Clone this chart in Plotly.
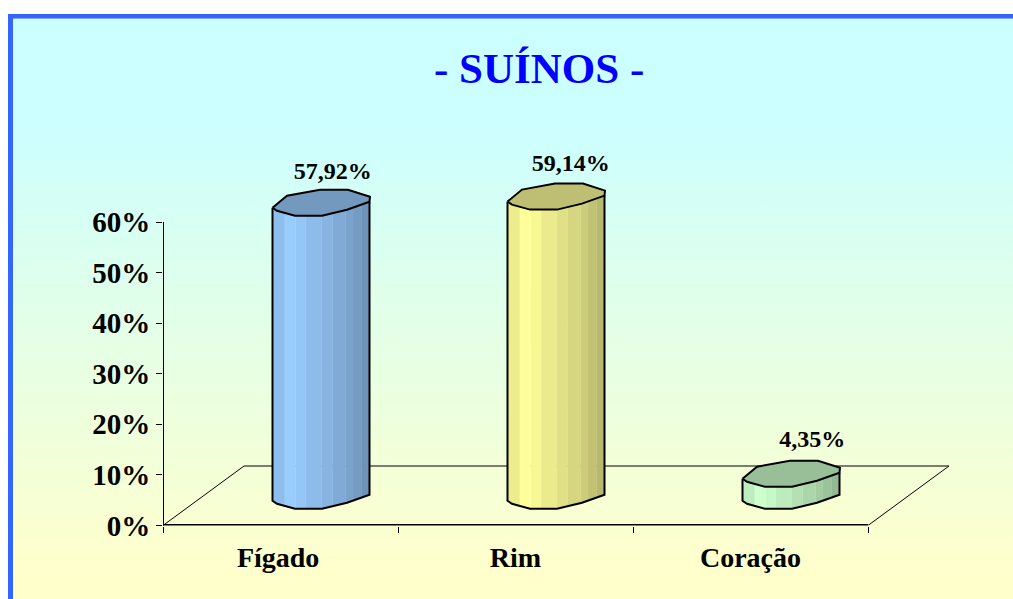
import numpy as np
import plotly.graph_objects as go

# ---- data ----
categories = ["Fígado", "Rim", "Coração"]
values = [57.92, 59.14, 4.35]
value_labels = ["57,92%", "59,14%", "4,35%"]
y_ticks = [0, 10, 20, 30, 40, 50, 60]
y_tick_labels = ["0%", "10%", "20%", "30%", "40%", "50%", "60%"]
bar_colors = [(153, 204, 255), (255, 255, 153), (204, 255, 204)]
label_shift_x = [0.05, 0.063, 0.09]
label_rise = [5.9, 6.3, 6.5]
title_text = "- SUÍNOS -"

# ---- geometry of the oblique projection, in axis units ----
W, H = 1013, 599
ORIGIN_X, ORIGIN_Y = 163, 525.5
PX_X = (868 - 163) / 3
PX_Y = (525.5 - 222) / 60
PLOT_R, PLOT_T = 980, 140
X_MAX = (PLOT_R - ORIGIN_X) / PX_X
Y_MAX = (ORIGIN_Y - PLOT_T) / PX_Y
FLOOR_DX, FLOOR_DY = 81 / PX_X, 59.5 / PX_Y
DX, DY = FLOOR_DX / 2, FLOOR_DY / 2

front_x = np.array([-48.5, -44, -26, 1, 26, 48.5])
front_y = np.array([5, 8, 13, 13, 7, -1])
back_x = np.array([49, 27, -1, -34])
back_y = np.array([-6, -13, -13, -7])
strip_edges = np.array([-48.5, -36, -25.3, -15, 0.7, 11.7, 24.7, 32, 40.7, 48.5])
strip_shade = [0.93, 1.0, 0.97, 0.92, 0.88, 0.84, 0.80, 0.76, 0.72]
TOP_SHADE = 0.75
FONT = "Liberation Serif"


def shade(rgb, f):
    return "rgb(%d,%d,%d)" % tuple(min(255, round(c * f)) for c in rgb)


fig = go.Figure()

# background gradient, on its own full-page axes
fig.add_trace(go.Scatter(
    x=[0, 1, 1, 0, 0], y=[0, 0, 1, 1, 0], mode="none", fill="toself",
    fillgradient=dict(type="vertical", start=0, stop=1,
                      colorscale=[[0, "#FFFFCC"], [0.05, "#FFFFCC"], [0.82, "#CCFFFF"], [1, "#CCFFFF"]]),
    hoverinfo="skip", showlegend=False, xaxis="x", yaxis="y"))


def main(**kw):
    fig.add_trace(go.Scatter(xaxis="x2", yaxis="y2", cliponaxis=False,
                             showlegend=False, hoverinfo="skip", **kw))


# floor
main(x=[0, FLOOR_DX, 3 + FLOOR_DX, 3], y=[0, FLOOR_DY, FLOOR_DY, 0],
     mode="lines", line=dict(color="black", width=1))
# axis lines (clipped by half at the plot edge, so drawn doubled)
main(x=[0, 0], y=[0, 60], mode="lines", line=dict(color="black", width=2))
main(x=[0, 3], y=[0, 0], mode="lines", line=dict(color="black", width=3))

# cylinders
for i, (val, rgb) in enumerate(zip(values, bar_colors)):
    cx = i + 0.5 + DX
    # side strips
    for k, f in enumerate(strip_shade):
        a, b = strip_edges[k], strip_edges[k + 1]
        xs = np.unique(np.concatenate([[a, b], front_x[(front_x > a) & (front_x < b)]]))
        ys = np.interp(xs, front_x, front_y)
        px = np.concatenate([xs, xs[::-1], xs[:1]])
        py = np.concatenate([DY + val - ys / PX_Y, (DY - ys / PX_Y)[::-1], [DY + val - ys[0] / PX_Y]])
        main(x=cx + px / PX_X, y=py, mode="lines", fill="toself",
             fillcolor=shade(rgb, f), line=dict(color=shade(rgb, f * 1.05), width=0.5))
    # side outline
    ox = np.concatenate([[front_x[0]], front_x, [front_x[-1]]])
    oy = np.concatenate([[DY + val - front_y[0] / PX_Y], DY - front_y / PX_Y, [DY + val - front_y[-1] / PX_Y]])
    main(x=cx + ox / PX_X, y=oy, mode="lines", line=dict(color="black", width=2))
    # top
    tx = np.concatenate([front_x, back_x, front_x[:1]])
    ty = np.concatenate([front_y, back_y, front_y[:1]])
    main(x=cx + tx / PX_X, y=DY + val - ty / PX_Y, mode="lines", fill="toself",
         fillcolor=shade(rgb, TOP_SHADE), line=dict(color="black", width=2))

# value labels
main(x=[i + 0.5 + DX + label_shift_x[i] for i in range(3)],
     y=[v + DY + r for v, r in zip(values, label_rise)], mode="text", text=value_labels,
     textposition="middle center",
     textfont=dict(family=FONT, size=24, color="black", weight=700))

hidden = dict(visible=False, range=[0, 1], fixedrange=True, automargin=False)
fig.update_layout(
    template="none",
    width=W, height=H, margin=dict(l=0, r=0, t=0, b=0, pad=0, autoexpand=False),
    paper_bgcolor="white", plot_bgcolor="rgba(0,0,0,0)", showlegend=False,
    xaxis=dict(domain=[13 / W, 1], **hidden),
    yaxis=dict(domain=[0, 1 - 18 / H], **hidden),
    xaxis2=dict(domain=[ORIGIN_X / W, PLOT_R / W], range=[0, X_MAX], anchor="y2", automargin=False,
                tickmode="array", tickvals=[0.49, 1.5, 2.5], ticktext=categories,
                ticks="", ticklabelstandoff=12, showgrid=False, zeroline=False, showline=False,
                tickfont=dict(family=FONT, size=28, color="black", weight=700),
                minor=dict(tickmode="array", tickvals=[0, 1, 2, 3], ticks="outside",
                           ticklen=6, tickcolor="black", tickwidth=1, showgrid=False)),
    yaxis2=dict(domain=[1 - ORIGIN_Y / H, 1 - PLOT_T / H], range=[0, Y_MAX], anchor="x2", automargin=False,
                tickmode="array", tickvals=y_ticks, ticktext=y_tick_labels,
                ticks="outside", ticklen=6, tickcolor="black", tickwidth=1,
                ticklabelstandoff=0, showgrid=False, zeroline=False, showline=False,
                tickfont=dict(family=FONT, size=29, color="black", weight=700)),
    annotations=[dict(text=title_text, xref="paper", yref="paper", x=538.5 / W, y=1 - 69 / H,
                      xanchor="center", yanchor="middle", showarrow=False,
                      font=dict(family=FONT, size=43, color="#0000FF", weight=700))],
    shapes=[
        dict(type="rect", xref="paper", yref="paper", x0=8 / W, x1=13 / W, y0=0, y1=1 - 14 / H,
             fillcolor="#3366FF", line_width=0, layer="above"),
        dict(type="rect", xref="paper", yref="paper", x0=8 / W, x1=1, y0=1 - 18 / H, y1=1 - 14 / H,
             fillcolor="#3366FF", line_width=0, layer="above"),
        dict(type="rect", xref="paper", yref="paper", x0=13 / W, x1=1, y0=1 - 19 / H, y1=1 - 18 / H,
             fillcolor="#80A6FF", line_width=0, layer="above"),
    ],
)

fig.write_html("out.html", config=dict(displayModeBar=False),
               post_script="document.body.style.margin='0';document.body.style.overflow='hidden';")
